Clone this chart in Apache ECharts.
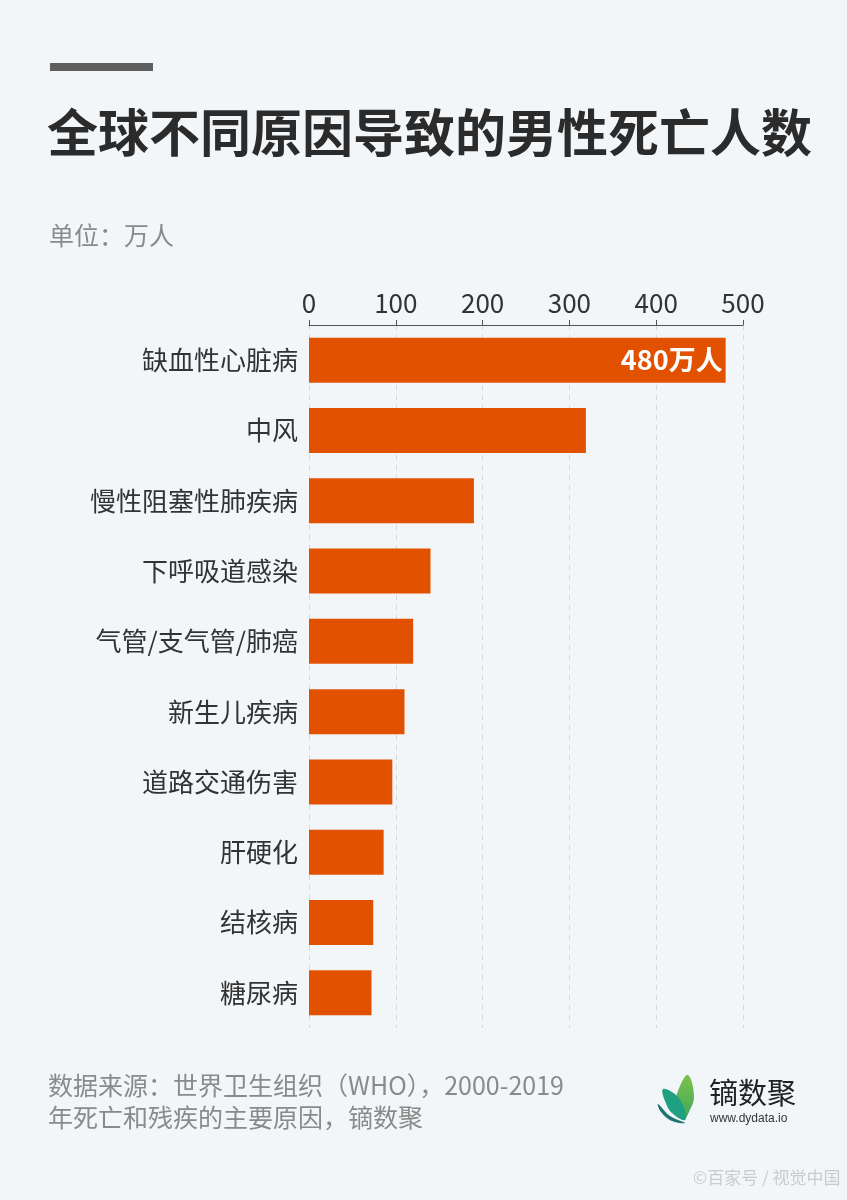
<!DOCTYPE html>
<html><head><meta charset="utf-8">
<script src="https://cdn.jsdelivr.net/npm/echarts@6/dist/echarts.min.js"></script>
<style>html,body{margin:0;padding:0;background:#F3F6F9;}#c{width:847px;height:1200px;}</style>
</head><body><div id="c"></div>
<script>
const categories = ['缺血性心脏病','中风','慢性阻塞性肺疾病','下呼吸道感染','气管/支气管/肺癌','新生儿疾病','道路交通伤害','肝硬化','结核病','糖尿病'];
const values = [480, 319, 190, 140, 120, 110, 96, 86, 74, 72];
const tickValues = [0, 100, 200, 300, 400, 500];
const labelText = ['480万人'];

const FONT = '"Noto Sans CJK SC", "Noto Sans", sans-serif';
const chart = echarts.init(document.getElementById('c'), null, {renderer: 'canvas'});
function txt(x, y, text, size, color, weight, family) {
  return {type: 'text', x: x, y: y, style: {text: text, fontSize: size, fill: color, fontWeight: weight || 'normal', fontFamily: family || FONT, textVerticalAlign: 'middle'}};
}
chart.setOption({
  backgroundColor: '#F3F6F9',
  animation: false,
  grid: {left: 309, right: 104, top: 325, bottom: 172},
  xAxis: {
    type: 'value', position: 'top', min: tickValues[0], max: tickValues[tickValues.length-1], interval: 100,
    axisLine: {show: true, lineStyle: {color: '#555', width: 1}},
    axisTick: {show: true, length: 5, lineStyle: {color: '#555'}},
    axisLabel: {color: '#333', fontSize: 26, fontFamily: FONT, margin: 9},
    splitLine: {show: true, lineStyle: {color: '#D3D8DE', type: [5, 5], width: 1}}
  },
  yAxis: {
    type: 'category', inverse: true, data: categories,
    axisLine: {show: false}, axisTick: {show: false},
    axisLabel: {color: '#333', fontSize: 26, fontFamily: FONT, margin: 11}
  },
  series: [{
    type: 'bar', data: values.map((v, i) => ({
      value: v,
      label: i === 0 ? {show: true, position: 'insideRight', formatter: labelText[0], color: '#fff', fontSize: 27, fontWeight: 'bold', fontFamily: FONT, distance: 3} : {show: false}
    })),
    barCategoryGap: '36%',
    itemStyle: {color: '#E25100'}
  }],
  graphic: [
    {type: 'rect', shape: {x: 50, y: 63, width: 103, height: 8}, style: {fill: '#5F5F5F'}},
    txt(47, 133, '全球不同原因导致的男性死亡人数', 51, '#2B2B2B', 'bold'),
    txt(49, 235, '单位：万人', 25, '#8A8A8A'),
    txt(48, 1085, '数据来源：世界卫生组织（WHO），2000-2019', 25, '#8A8A8A'),
    txt(48, 1117, '年死亡和残疾的主要原因，镝数聚', 25, '#8A8A8A'),
    {type: 'polygon', shape: {points: [[688,1075],[694,1096],[689,1112],[683,1120],[676,1103],[680,1086]], smooth: 0.4},
      style: {fill: new echarts.graphic.LinearGradient(0, 0, 0, 1, [{offset: 0, color: '#7DC24A'}, {offset: 1, color: '#3FA65A'}])}},
    {type: 'polygon', shape: {points: [[663,1089],[676,1095],[684,1108],[685,1120],[672,1113],[665,1101]], smooth: 0.4}, style: {fill: '#1FA083'}},
    {type: 'polygon', shape: {points: [[658,1104],[670,1116],[685,1123],[672,1121],[661,1112]], smooth: 0.4}, style: {fill: '#1D7272'}},
    txt(709, 1093, '镝数聚', 29, '#222'),
    txt(710, 1119, 'www.dydata.io', 12, '#333', 'normal', '"Liberation Sans Narrow", "Liberation Sans", sans-serif'),
    txt(693, 1178, '©百家号 / 视觉中国', 17, '#C8CCD0')
  ]
});
</script></body></html>
